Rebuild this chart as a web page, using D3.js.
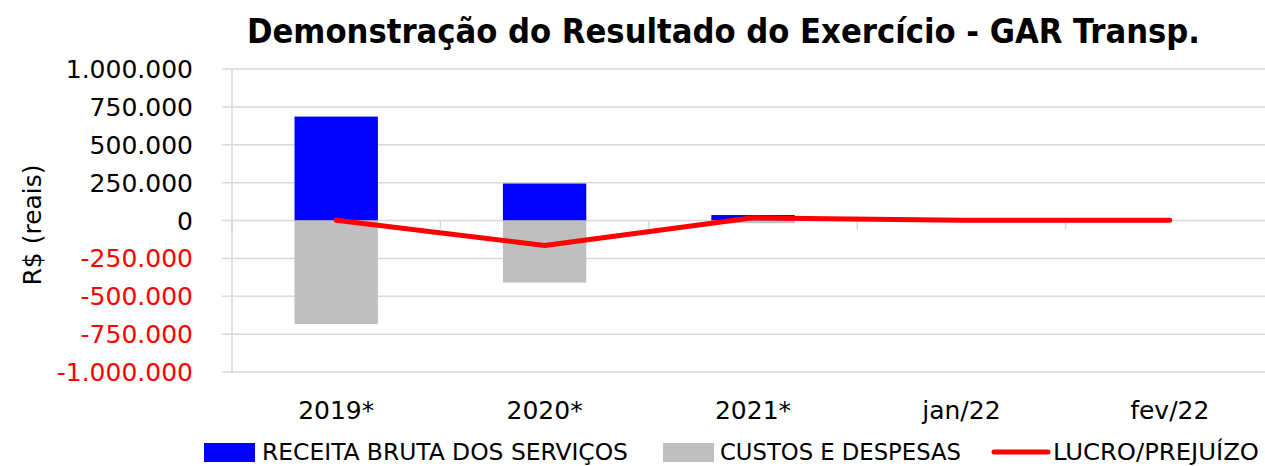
<!DOCTYPE html>
<html>
<head>
<meta charset="utf-8">
<script src="https://cdn.jsdelivr.net/npm/d3@7"></script>
<style>
  body { margin: 0; background: #fff; }
  svg { display: block; font-family: "DejaVu Sans", sans-serif; }
</style>
</head>
<body>
<svg id="chart" width="1265" height="466"></svg>
<script>
const categories = ['2019*', '2020*', '2021*', 'jan/22', 'fev/22'];
const receita = [686000, 244000, 36000, 0, 0];
const custos = [-684000, -409000, -18000, 0, 0];
const lucro = [2000, -165000, 18000, 2000, 1000];
const yTicks = [1000000, 750000, 500000, 250000, 0, -250000, -500000, -750000, -1000000];

const svg = d3.select('#chart');

const br = d3.formatLocale({ decimal: ',', thousands: '.', grouping: [3], currency: ['R$', ''], minus: '-' });
const fmt = br.format(',.0f');

const x = d3.scaleBand()
  .domain(categories)
  .range([232, 1274])
  .paddingInner(0.6)
  .paddingOuter(0.3);

const y = d3.scaleLinear()
  .domain([-1000000, 1000000])
  .range([372, 69]);

// gridlines
svg.append('g')
  .selectAll('line')
  .data(yTicks)
  .enter().append('line')
  .attr('x1', 222)
  .attr('x2', 1274)
  .attr('y1', (d) => y(d))
  .attr('y2', (d) => y(d))
  .attr('stroke', '#d9d9d9')
  .attr('stroke-width', 1.5);

// vertical axis line
svg.append('line')
  .attr('x1', 232).attr('x2', 232)
  .attr('y1', y(1000000)).attr('y2', y(-1000000))
  .attr('stroke', '#d9d9d9')
  .attr('stroke-width', 1.5);

// category ticks on zero line
const step = x.step();
svg.append('g')
  .selectAll('line')
  .data(d3.range(categories.length + 1))
  .enter().append('line')
  .attr('x1', (i) => 232 + i * step)
  .attr('x2', (i) => 232 + i * step)
  .attr('y1', y(0))
  .attr('y2', y(0) + 9)
  .attr('stroke', '#d9d9d9')
  .attr('stroke-width', 1.5);

// y tick labels
svg.append('g')
  .selectAll('text')
  .data(yTicks)
  .enter().append('text')
  .attr('x', 193)
  .attr('y', (d) => y(d))
  .attr('dy', '0.36em')
  .attr('text-anchor', 'end')
  .attr('font-size', 25)
  .attr('fill', (d) => (d < 0 ? '#ff0000' : '#000'))
  .text((d) => fmt(d));

// y title
svg.append('text')
  .attr('transform', 'translate(41,225) rotate(-90)')
  .attr('text-anchor', 'middle')
  .attr('font-size', 25)
  .text('R$ (reais)');

// bars
const bw = x.bandwidth();
svg.append('g')
  .selectAll('rect')
  .data(categories)
  .enter().append('rect')
  .attr('x', (d) => x(d))
  .attr('width', bw)
  .attr('y', (d, i) => y(receita[i]))
  .attr('height', (d, i) => y(0) - y(receita[i]))
  .attr('fill', '#0000ff');

svg.append('g')
  .selectAll('rect')
  .data(categories)
  .enter().append('rect')
  .attr('x', (d) => x(d))
  .attr('width', bw)
  .attr('y', y(0))
  .attr('height', (d, i) => y(custos[i]) - y(0))
  .attr('fill', '#bfbfbf');

// line
const line = d3.line()
  .x((d, i) => x(categories[i]) + bw / 2)
  .y((d) => y(d));

svg.append('path')
  .datum(lucro)
  .attr('d', line)
  .attr('fill', 'none')
  .attr('stroke', '#ff0000')
  .attr('stroke-width', 5)
  .attr('stroke-linecap', 'round')
  .attr('stroke-linejoin', 'round');

// x labels
svg.append('g')
  .selectAll('text')
  .data(categories)
  .enter().append('text')
  .attr('x', (d) => x(d) + bw / 2)
  .attr('y', 419)
  .attr('text-anchor', 'middle')
  .attr('font-size', 25)
  .text((d) => d);

// title
svg.append('text')
  .attr('x', 247)
  .attr('y', 43)
  .attr('font-family', '"DejaVu Sans Condensed", "DejaVu Sans", sans-serif')
  .attr('font-weight', 'bold')
  .attr('font-size', 34)
  .attr('textLength', 953)
  .attr('lengthAdjust', 'spacingAndGlyphs')
  .text('Demonstração do Resultado do Exercício - GAR Transp.');

// legend
const legend = [
  { name: 'RECEITA BRUTA DOS SERVIÇOS', color: '#0000ff', type: 'rect', x: 204, tx: 262, tw: 366 },
  { name: 'CUSTOS E DESPESAS', color: '#bfbfbf', type: 'rect', x: 663, tx: 720, tw: 241 },
  { name: 'LUCRO/PREJUÍZO', color: '#ff0000', type: 'line', x: 994, tx: 1053, tw: 206 }
];
const lg = svg.append('g');
legend.forEach((l) => {
  if (l.type === 'rect') {
    lg.append('rect')
      .attr('x', l.x).attr('y', 443)
      .attr('width', 51).attr('height', 19)
      .attr('fill', l.color);
  } else {
    lg.append('line')
      .attr('x1', l.x).attr('x2', l.x + 54)
      .attr('y1', 452).attr('y2', 452)
      .attr('stroke', l.color)
      .attr('stroke-width', 5)
      .attr('stroke-linecap', 'round');
  }
  lg.append('text')
    .attr('x', l.tx)
    .attr('y', 460)
    .attr('font-family', '"DejaVu Sans Condensed", "DejaVu Sans", sans-serif')
    .attr('font-size', 23)
    .attr('textLength', l.tw)
    .attr('lengthAdjust', 'spacingAndGlyphs')
    .text(l.name);
});
</script>
</body>
</html>
